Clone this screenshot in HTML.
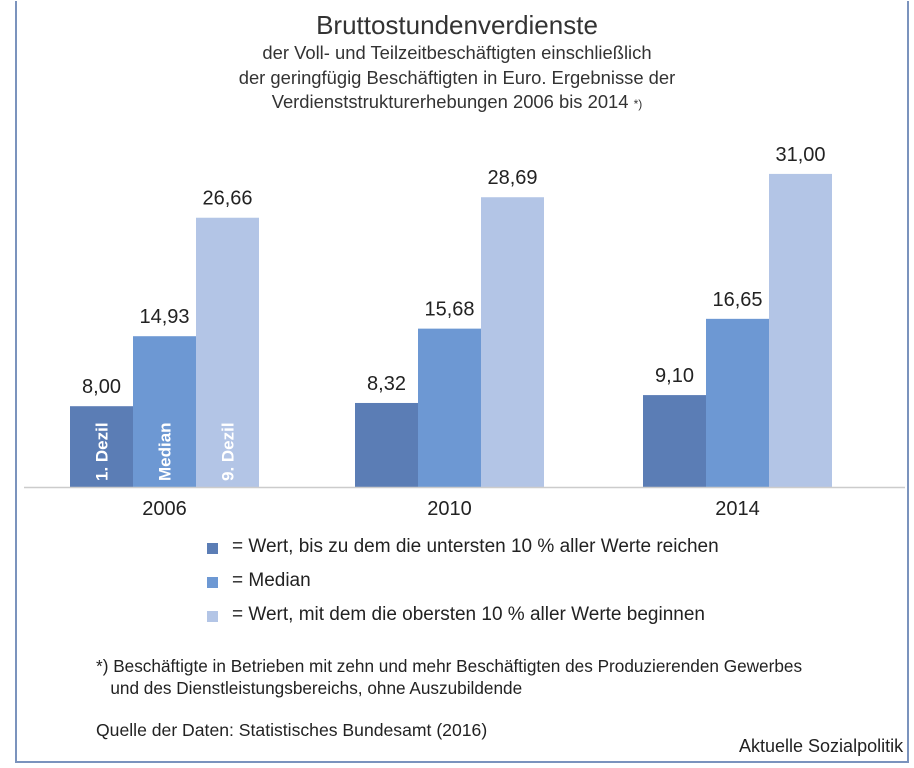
<!DOCTYPE html>
<html><head><meta charset="utf-8"><style>
body{margin:0;background:#fff;font-family:"Liberation Sans",sans-serif;}
#wrap{position:relative;width:914px;height:768px;overflow:hidden;}
#frame{position:absolute;left:15px;top:1px;width:890px;height:760px;border:2px solid #7b93bd;border-top:none;}
.t{position:absolute;white-space:nowrap;color:#222;}
</style></head><body>
<div id="wrap">
<div id="frame"></div>
<div class="t" style="left:0;width:914px;text-align:center;top:10px;font-size:26px;color:#333">Bruttostundenverdienste</div>
<div class="t" style="left:0;width:914px;text-align:center;top:41px;font-size:18.4px;line-height:24.5px;color:#333">der Voll- und Teilzeitbeschäftigten einschließlich<br>der geringfügig Beschäftigten in Euro. Ergebnisse der<br>Verdienststrukturerhebungen 2006 bis 2014 <span style="font-size:12px">*)</span></div>
<svg id="plot" width="914" height="768" style="position:absolute;left:0;top:0"></svg>
<div>
<div style="position:absolute;left:207px;top:543px;width:11px;height:11px;background:#5b7db5"></div>
<div class="t" style="left:232px;top:536px;font-size:19px">= Wert, bis zu dem die untersten 10 % aller Werte reichen</div>
<div style="position:absolute;left:207px;top:577px;width:11px;height:11px;background:#6d98d3"></div>
<div class="t" style="left:232px;top:570px;font-size:19px">= Median</div>
<div style="position:absolute;left:207px;top:611px;width:11px;height:11px;background:#b3c5e6"></div>
<div class="t" style="left:232px;top:604px;font-size:19px">= Wert, mit dem die obersten 10 % aller Werte beginnen</div>
</div>
<div class="t" style="left:96px;top:655px;font-size:17.2px;line-height:22px">*) Beschäftigte in Betrieben mit zehn und mehr Beschäftigten des Produzierenden Gewerbes<br>&nbsp;&nbsp;&nbsp;und des Dienstleistungsbereichs, ohne Auszubildende</div>
<div class="t" style="left:96px;top:720px;font-size:17.6px">Quelle der Daten: Statistisches Bundesamt (2016)</div>
<div class="t" style="left:739px;top:736px;font-size:18px">Aktuelle Sozialpolitik</div>
</div>
<script>
const categories=["2006","2010","2014"];
const dezil1=[8.00,8.32,9.10];
const median=[14.93,15.68,16.65];
const dezil9=[26.66,28.69,31.00];
const seriesNames=["1. Dezil","Median","9. Dezil"];
const colors=["#5b7db5","#6d98d3","#b3c5e6"];
const NS="http://www.w3.org/2000/svg";
const svg=document.getElementById('plot');
const base=487, scale=10.1, barW=63;
const groupX=[70,355,643];
function y(v){return base-v*scale;}
function mk(t,a){const e=document.createElementNS(NS,t);for(const k in a)e.setAttribute(k,a[k]);svg.appendChild(e);return e;}
const series=[dezil1,median,dezil9];
categories.forEach((c,i)=>{
  series.forEach((s,j)=>{
    const x=groupX[i]+j*barW;
    const r=mk('rect',{x:x,y:y(s[i]),width:barW,height:s[i]*scale,fill:colors[j]});
    
    
    const t=mk('text',{x:x+barW/2,y:y(s[i])-13,'text-anchor':'middle','font-size':'20','fill':'#222','font-family':'Liberation Sans, sans-serif'});
    t.textContent=s[i].toFixed(2).replace('.',',');
    
    
    if(i===0){
      const l=mk('text',{transform:`translate(${x+barW/2+6},${base-6}) rotate(-90)`,'font-size':'17','font-weight':'bold','fill':'#fff','font-family':'Liberation Sans, sans-serif'});
      l.textContent=seriesNames[j];
      
      
    }
  });
  const ct=mk('text',{x:groupX[i]+barW*1.5,y:base+28,'text-anchor':'middle','font-size':'20','fill':'#222','font-family':'Liberation Sans, sans-serif'});
  ct.textContent=c;
  
  
});
const ax=mk('line',{x1:24,x2:905,y1:base+0.5,y2:base+0.5,stroke:'#ccc','stroke-width':1.5});


</script>
</body></html>
